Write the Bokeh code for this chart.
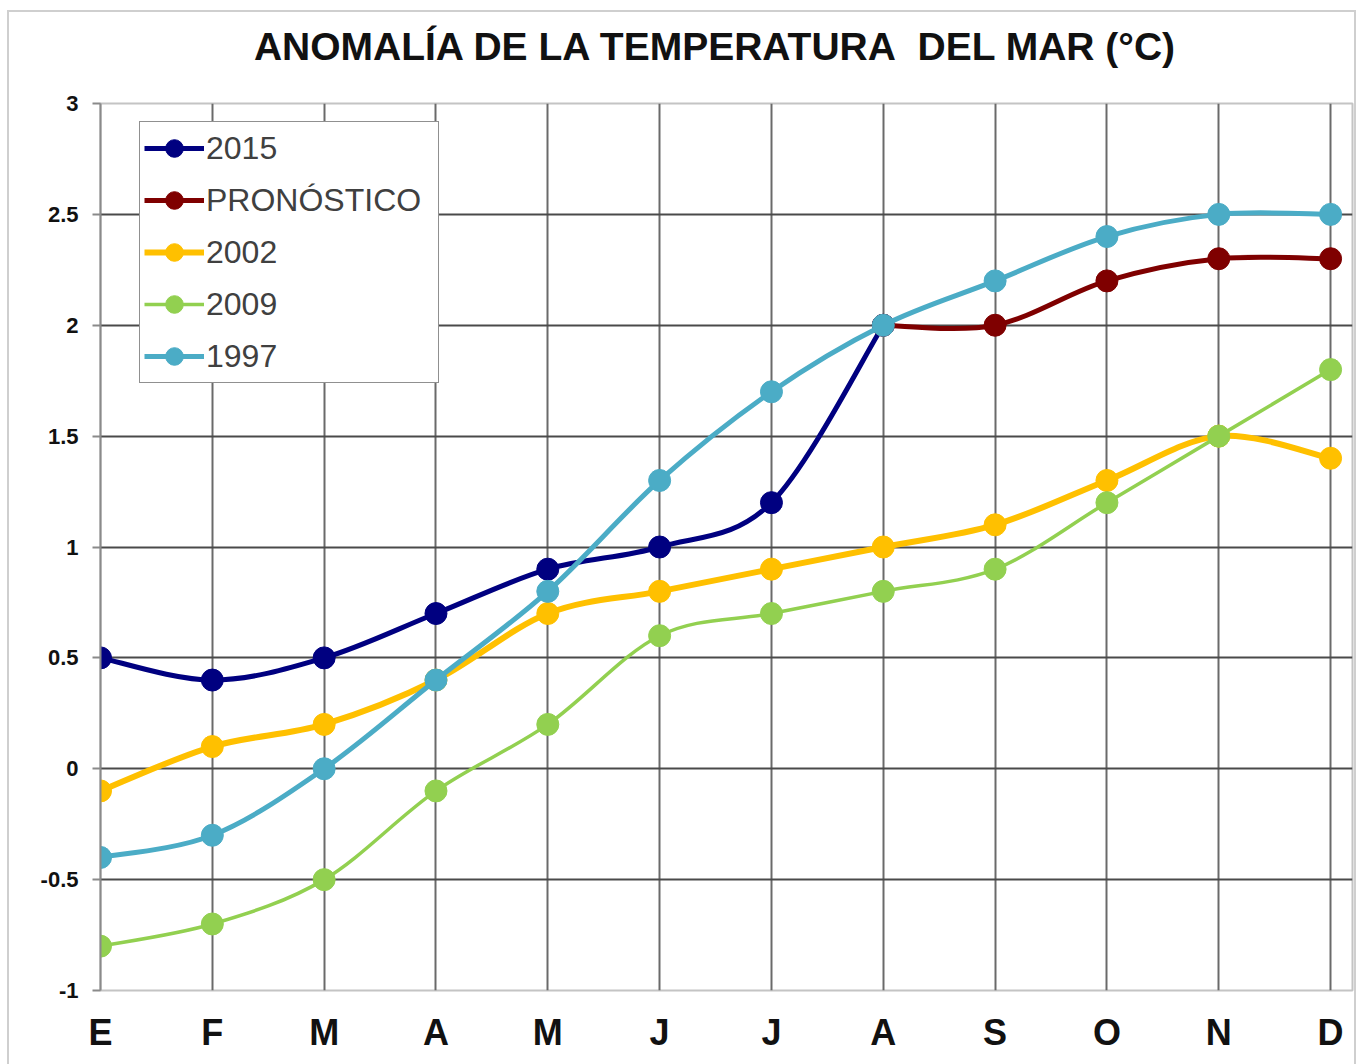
import numpy as np
from bokeh.plotting import figure
from bokeh.models import Range1d, FixedTicker, Legend, LegendItem, Div
from bokeh.layouts import column
from bokeh.embed import file_html
from bokeh.resources import INLINE

# ---------------- data ----------------
title_text = "ANOMALÍA DE LA TEMPERATURA&nbsp; DEL MAR (°C)"
months = ["E", "F", "M", "A", "M", "J", "J", "A", "S", "O", "N", "D"]
y_ticks = [-1, -0.5, 0, 0.5, 1, 1.5, 2, 2.5, 3]
y_tick_labels = ["-1", "-0.5", "0", "0.5", "1", "1.5", "2", "2.5", "3"]

v2015 = [0.5, 0.4, 0.5, 0.7, 0.9, 1.0, 1.2, 2.0]            # E..A
pronostico = [2.0, 2.0, 2.2, 2.3, 2.3]                       # A..D
v2002 = [-0.1, 0.1, 0.2, 0.4, 0.7, 0.8, 0.9, 1.0, 1.1, 1.3, 1.5, 1.4]
v2009 = [-0.8, -0.7, -0.5, -0.1, 0.2, 0.6, 0.7, 0.8, 0.9, 1.2, 1.5, 1.8]
v1997 = [-0.4, -0.3, 0.0, 0.4, 0.8, 1.3, 1.7, 2.0, 2.2, 2.4, 2.5, 2.5]

series_labels = ["2015", "PRONÓSTICO", "2002", "2009", "1997"]
series_start = [0, 7, 0, 0, 0]
series_values = [v2015, pronostico, v2002, v2009, v1997]
series_colors = ["#000080", "#7f0000", "#ffc000", "#92d050", "#4bacc6"]
series_widths = [5, 5, 6, 3.5, 5]
draw_order = [2, 3, 0, 1, 4]

# ---------------- title ----------------
title_div = Div(text=title_text, width=1345, height=71, margin=0,
                styles={"font-family": "Liberation Sans", "font-weight": "bold",
                        "font-size": "39px", "line-height": "70px",
                        "text-align": "center", "text-indent": "66px",
                        "color": "#111111", "white-space": "nowrap",
                        "background-color": "white"})

# ---------------- figure ----------------
p = figure(width=1345, height=981, output_backend="svg", toolbar_location=None,
           x_range=Range1d(0, 11.196), y_range=Range1d(-1, 3),
           min_border_left=91, min_border_right=2, min_border_top=20, min_border_bottom=74)
p.margin = 0

p.outline_line_color = "#c4c4c4"
p.outline_line_width = 2
p.background_fill_color = "white"
p.border_fill_color = "white"

# y axis
p.yaxis.ticker = FixedTicker(ticks=y_ticks)
p.yaxis.major_label_overrides = {t: s for t, s in zip(y_ticks, y_tick_labels)}
p.yaxis.major_label_text_font = "Liberation Sans"
p.yaxis.major_label_text_font_style = "bold"
p.yaxis.major_label_text_font_size = "22px"
p.yaxis.major_label_text_color = "#111111"
p.yaxis.axis_line_color = "#8a8a8a"
p.yaxis.axis_line_width = 2
p.yaxis.major_tick_line_color = "#8a8a8a"
p.yaxis.major_tick_line_width = 2
p.yaxis.major_tick_out = 8
p.yaxis.major_tick_in = 0
p.yaxis.minor_tick_line_color = None
p.yaxis.major_label_standoff = 14

# x axis
p.xaxis.ticker = FixedTicker(ticks=list(range(len(months))))
p.xaxis.major_label_overrides = {i: m for i, m in enumerate(months)}
p.xaxis.major_label_text_font = "Liberation Sans"
p.xaxis.major_label_text_font_style = "bold"
p.xaxis.major_label_text_font_size = "36px"
p.xaxis.major_label_text_color = "#111111"
p.xaxis.axis_line_color = None
p.xaxis.major_tick_line_color = None
p.xaxis.minor_tick_line_color = None
p.xaxis.major_label_standoff = 15

# grids
p.xgrid.ticker = FixedTicker(ticks=list(range(1, len(months))))
p.xgrid.grid_line_color = "#6a6a6a"
p.xgrid.grid_line_width = 2
p.ygrid.ticker = FixedTicker(ticks=y_ticks[1:-1])
p.ygrid.grid_line_color = "#4a4a4a"
p.ygrid.grid_line_width = 2


def smooth_segments(xs, ys):
    x = np.asarray(xs, dtype=float)
    y = np.asarray(ys, dtype=float)
    xp = np.concatenate([[x[0]], x, [x[-1]]])
    yp = np.concatenate([[y[0]], y, [y[-1]]])
    x0, y0 = x[:-1], y[:-1]
    x1, y1 = x[1:], y[1:]
    cx0 = x0 + (xp[2:-1] - xp[:-3]) / 6.0
    cy0 = y0 + (yp[2:-1] - yp[:-3]) / 6.0
    cx1 = x1 - (xp[3:] - xp[1:-2]) / 6.0
    cy1 = y1 - (yp[3:] - yp[1:-2]) / 6.0
    return dict(x0=x0, y0=y0, x1=x1, y1=y1, cx0=cx0, cy0=cy0, cx1=cx1, cy1=cy1)


items = {}
for i in draw_order:
    vals = series_values[i]
    xs = list(range(series_start[i], series_start[i] + len(vals)))
    seg = smooth_segments(xs, vals)
    br = p.bezier(x0=seg["x0"], y0=seg["y0"], x1=seg["x1"], y1=seg["y1"],
                  cx0=seg["cx0"], cy0=seg["cy0"], cx1=seg["cx1"], cy1=seg["cy1"],
                  line_color=series_colors[i], line_width=series_widths[i])
    sr = p.scatter(xs, vals, size=22, marker="circle",
                   fill_color=series_colors[i], line_color=series_colors[i])
    items[i] = LegendItem(label=series_labels[i], renderers=[br, sr])

legend = Legend(items=[items[i] for i in range(len(series_labels))],
                location=(39, 607), margin=0, padding=4, spacing=8,
                glyph_width=60, glyph_height=44, label_height=44, label_width=228,
                label_standoff=2, label_text_font="Liberation Sans",
                label_text_font_size="32px", label_text_color="#404040",
                border_line_color="#222222", border_line_width=1.5,
                background_fill_color="white", background_fill_alpha=1.0)
p.add_layout(legend)

layout = column(title_div, p, spacing=0,
                styles={"border": "2px solid #cfcfcf", "margin-left": "7px",
                        "margin-top": "10px", "background-color": "white"})

open("out.html", "w").write(file_html(layout, INLINE))
